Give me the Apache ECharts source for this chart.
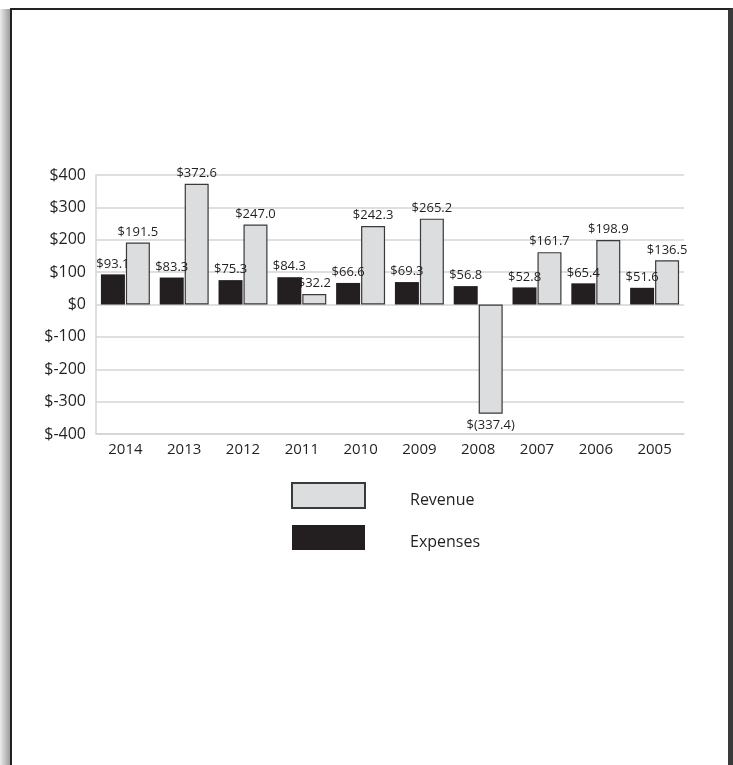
<!DOCTYPE html>
<html>
<head>
<meta charset="utf-8">
<script src="https://cdn.jsdelivr.net/npm/echarts@6/dist/echarts.min.js"></script>
<style>
  html, body { margin: 0; padding: 0; background: #ffffff; }
  #page { position: relative; width: 733px; height: 765px; overflow: hidden; background: #ffffff; }
  #shade { position: absolute; left: 0; top: 9px; width: 10px; height: 760px;
           background: linear-gradient(to right, #ececec, #b4b4b4 70%, #9c9c9c); }
  #frame { position: absolute; left: 10px; top: 8px; width: 716px; height: 800px;
           border-left: 2px solid #222222; border-top: 2px solid #222222;
           border-right: 5px solid #3a3a3a; background: #ffffff; }
  #chart { position: absolute; left: 0; top: 0; width: 733px; height: 765px; }
</style>
</head>
<body>
<div id="page">
  <div id="shade"></div>
  <div id="frame"></div>
  <div id="chart"></div>
</div>
<script>
// Fiscal years, newest first
const years = ['2014', '2013', '2012', '2011', '2010', '2009', '2008', '2007', '2006', '2005'];
// Amounts in millions of dollars
const revenue  = [191.5, 372.6, 247.0, 32.2, 242.3, 265.2, -337.4, 161.7, 198.9, 136.5];
const expenses = [93.1, 83.3, 75.3, 84.3, 66.6, 69.3, 56.8, 52.8, 65.4, 51.6];
// Value axis range and step
const yMin = -400, yMax = 400, yStep = 100;

const ink = '#231f20';
const font = 'Open Sans';

function money(v) {
  return v < 0 ? '$(' + Math.abs(v).toFixed(1) + ')' : '$' + v.toFixed(1);
}

const chart = echarts.init(document.getElementById('chart'), null, { renderer: 'canvas' });

chart.setOption({
  backgroundColor: 'transparent',
  animation: false,
  textStyle: { fontFamily: font, color: ink },
  grid: { left: 96, right: 49, top: 175, bottom: 331, containLabel: false },
  legend: {
    orient: 'vertical',
    left: 286,
    top: 477,
    itemWidth: 73,
    itemHeight: 25,
    itemGap: 16,
    icon: 'rect',
    data: ['Revenue', 'Expenses'],
    formatter: name => '{t|' + name + '}',
    textStyle: {
      fontFamily: font, fontSize: 16, color: ink,
      padding: [0, 0, 0, 40],
      rich: { t: { fontFamily: font, fontSize: 16, color: ink, padding: [9, 0, 0, 0] } }
    }
  },
  xAxis: {
    type: 'category',
    data: years,
    position: 'bottom',
    axisLine: { show: true, onZero: false, lineStyle: { color: '#d4d4d4', width: 1.5 } },
    axisTick: { show: false },
    axisLabel: { fontFamily: font, fontSize: 15, color: ink, margin: 8 }
  },
  yAxis: {
    type: 'value',
    min: yMin,
    max: yMax,
    interval: yStep,
    axisLine: { show: true, lineStyle: { color: '#d4d4d4', width: 1.5 } },
    axisTick: { show: false },
    splitLine: { show: true, lineStyle: { color: '#d4d4d4', width: 1.5 } },
    axisLabel: {
      fontFamily: font, fontSize: 16, color: ink, margin: 10,
      formatter: v => '$' + v
    }
  },
  series: [
    {
      name: 'Expenses',
      type: 'bar',
      barWidth: 24,
      barGap: '4%',
      data: expenses,
      itemStyle: { color: ink },
      label: {
        show: true, position: 'top', distance: 4,
        fontFamily: font, fontSize: 13, color: ink,
        formatter: p => money(p.value)
      }
    },
    {
      name: 'Revenue',
      type: 'bar',
      barWidth: 24,
      data: revenue.map(v => v < 0 ? { value: v, label: { position: 'bottom', distance: 5 } } : v),
      itemStyle: { color: '#dcdddf', borderColor: '#3a3a3a', borderWidth: 1.2 },
      label: {
        show: true, position: 'top', distance: 4,
        fontFamily: font, fontSize: 13, color: ink,
        formatter: p => money(p.value)
      }
    }
  ]
});
</script>
</body>
</html>
